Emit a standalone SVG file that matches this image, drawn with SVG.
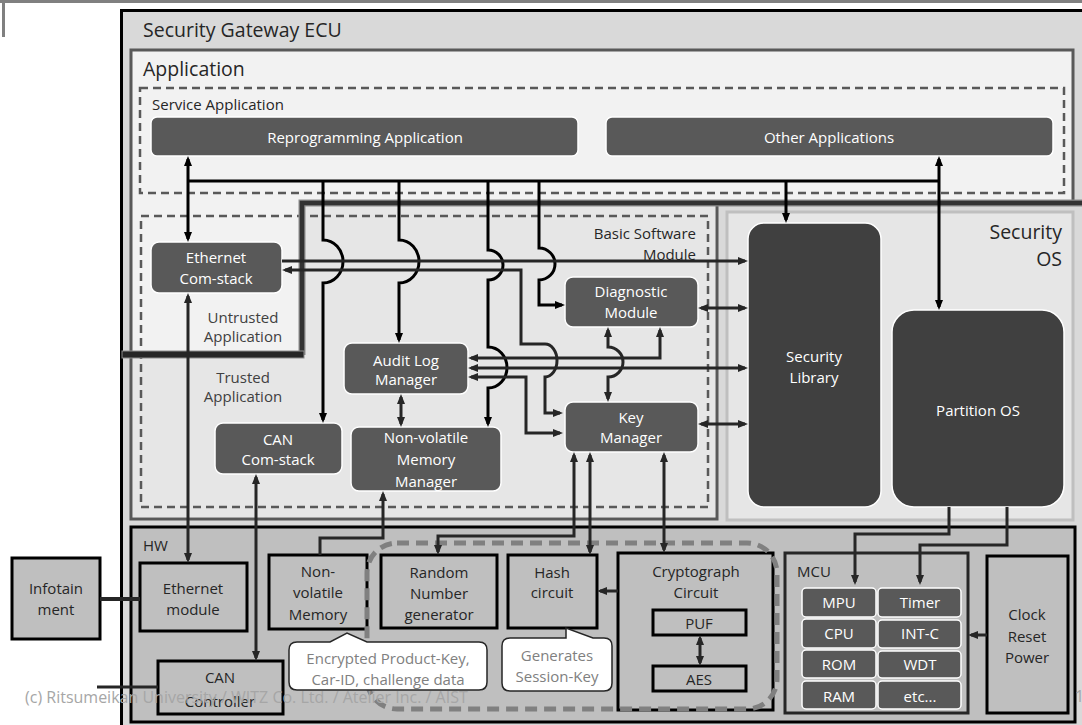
<svg xmlns="http://www.w3.org/2000/svg" width="1082" height="725" viewBox="0 0 1082 725">
<style>
text{font-family:"Open Sans","Liberation Sans",sans-serif;font-size:15px}
.w{fill:#fff;text-anchor:middle}
.d{fill:#262626;text-anchor:middle}
.sw{fill:#595959;stroke:#fff;stroke-width:1.5}
.sd{fill:#404040;stroke:#fff;stroke-width:1.5}
.hw{fill:#bfbfbf;stroke:#000;stroke-width:3}
.bus{fill:none;stroke:#000;stroke-width:3}
.cn{fill:none;stroke:#262626;stroke-width:3}
.call{fill:#fff;stroke:#262626;stroke-width:1.5}
.g{fill:#808080;text-anchor:middle}
</style>
<defs>
<marker id="ab" viewBox="0 0 10 10" refX="7" refY="5" markerWidth="10" markerHeight="10" markerUnits="userSpaceOnUse" orient="auto-start-reverse"><path d="M0,1 L10,5 L0,9 z" fill="#000"/></marker>
<marker id="ad" viewBox="0 0 10 10" refX="7" refY="5" markerWidth="10" markerHeight="10" markerUnits="userSpaceOnUse" orient="auto-start-reverse"><path d="M0,1 L10,5 L0,9 z" fill="#262626"/></marker>
</defs>
<rect x="0" y="0" width="1082" height="725" fill="#fff"/>
<rect x="0" y="0" width="1082" height="3" fill="#808080"/>
<rect x="2" y="0" width="3" height="37" fill="#808080"/>

<g id="ecu">
<rect x="121.5" y="10.5" width="980" height="720" fill="#d9d9d9" stroke="#000" stroke-width="3"/>
<text x="143" y="37" style="font-size:19.5px" fill="#262626">Security Gateway ECU</text>
</g>

<g id="application">
<polygon points="131,50 1073,50 1073,204 717,204 717,519 131,519" fill="#f2f2f2" stroke="#595959" stroke-width="3"/>
<polygon points="133,358 302,358 302,205 715,205 715,517 133,517" fill="#e6e6e6"/>
<text x="143" y="76" style="font-size:19.5px" fill="#262626">Application</text>
</g>

<g id="security-os">
<rect x="727" y="212" width="346" height="308" fill="#e6e6e6" stroke="#bfbfbf" stroke-width="3"/>
<text x="1062" y="239" style="font-size:19.5px;text-anchor:end" fill="#262626">Security</text>
<text x="1062" y="266" style="font-size:19.5px;text-anchor:end" fill="#262626">OS</text>
</g>

<g id="service-application">
<rect x="140" y="88" width="924" height="105" fill="none" stroke="#595959" stroke-width="2.5" stroke-dasharray="8 5"/>
<text x="152" y="110" fill="#262626">Service Application</text>
</g>

<g id="basic-software-module">
<rect x="141" y="216" width="567" height="291" fill="none" stroke="#595959" stroke-width="2.5" stroke-dasharray="8 5"/>
<text x="696" y="239" style="text-anchor:end" fill="#262626">Basic Software</text>
<text x="696" y="260" style="text-anchor:end" fill="#262626">Module</text>
</g>

<g id="trust-boundary">
<path d="M302,355 V203 H1082" fill="none" stroke="#8c8c8c" stroke-width="7"/>
<path d="M302,355 V203 H1082" fill="none" stroke="#333" stroke-width="4.5"/>
<rect x="122" y="351" width="182" height="7" fill="#262626" stroke="#8c8c8c" stroke-width="1"/>
<text class="d" x="243" y="323" style="fill:#404040">Untrusted</text>
<text class="d" x="243" y="342" style="fill:#404040">Application</text>
<text class="d" x="243" y="383" style="fill:#404040">Trusted</text>
<text class="d" x="243" y="402" style="fill:#404040">Application</text>
</g>

<g id="reprogramming-application"><rect class="sw" x="151" y="117" width="427" height="39" rx="6"/><text class="w" x="365" y="143">Reprogramming Application</text></g>
<g id="other-applications"><rect class="sw" x="606" y="117" width="447" height="39" rx="6"/><text class="w" x="829" y="143">Other Applications</text></g>
<g id="ethernet-com-stack"><rect class="sw" x="151" y="242" width="131" height="51" rx="8"/><text class="w" x="216" y="263">Ethernet</text><text class="w" x="216" y="284">Com-stack</text></g>
<g id="audit-log-manager"><rect class="sw" x="344" y="343" width="124" height="51" rx="8"/><text class="w" x="406" y="366">Audit Log</text><text class="w" x="406" y="385">Manager</text></g>
<g id="diagnostic-module"><rect class="sw" x="565" y="277" width="133" height="50" rx="8"/><text class="w" x="631" y="297">Diagnostic</text><text class="w" x="631" y="318">Module</text></g>
<g id="key-manager"><rect class="sw" x="565" y="402" width="133" height="50" rx="8"/><text class="w" x="631" y="423">Key</text><text class="w" x="631" y="443">Manager</text></g>
<g id="can-com-stack"><rect class="sw" x="215" y="423" width="127" height="51" rx="8"/><text class="w" x="278" y="445">CAN</text><text class="w" x="278" y="465">Com-stack</text></g>
<g id="nvm-manager"><rect class="sw" x="351" y="427" width="150" height="64" rx="8"/><text class="w" x="426" y="443">Non-volatile</text><text class="w" x="426" y="465">Memory</text><text class="w" x="426" y="487">Manager</text></g>
<g id="security-library"><rect class="sd" x="748" y="223" width="133" height="284" rx="16"/><text class="w" x="814" y="362">Security</text><text class="w" x="814" y="383">Library</text></g>
<g id="partition-os"><rect class="sd" x="892" y="310" width="172" height="197" rx="22"/><text class="w" x="978" y="416">Partition OS</text></g>

<g id="hw">
<rect x="131" y="527" width="944" height="195" fill="#bfbfbf" stroke="#000" stroke-width="3"/>
<text x="143" y="551" fill="#262626">HW</text>
</g>
<g id="infotainment"><rect class="hw" x="12" y="558" width="88" height="81"/><text class="d" x="56" y="594">Infotain</text><text class="d" x="56" y="615">ment</text></g>
<g id="ethernet-module"><rect class="hw" x="140" y="563" width="107" height="68"/><text class="d" x="193" y="594">Ethernet</text><text class="d" x="193" y="615">module</text></g>
<g id="can-controller"><rect class="hw" x="158" y="661" width="125" height="53"/><text class="d" x="220" y="683">CAN</text><text class="d" x="220" y="707">Controller</text></g>
<g id="non-volatile-memory"><rect class="hw" x="269" y="555" width="98" height="74"/><text class="d" x="318" y="577">Non-</text><text class="d" x="318" y="598">volatile</text><text class="d" x="318" y="620">Memory</text></g>
<g id="random-number-generator"><rect class="hw" x="381" y="555" width="116" height="73"/><text class="d" x="439" y="578">Random</text><text class="d" x="439" y="599">Number</text><text class="d" x="439" y="620">generator</text></g>
<g id="hash-circuit"><rect class="hw" x="508" y="555" width="89" height="73"/><text class="d" x="552" y="578">Hash</text><text class="d" x="552" y="598">circuit</text></g>
<g id="cryptograph-circuit"><rect class="hw" x="618" y="553" width="155" height="157"/><text class="d" x="696" y="577">Cryptograph</text><text class="d" x="696" y="598">Circuit</text></g>
<g id="puf"><rect class="hw" x="653" y="610" width="93" height="25"/><text class="d" x="699" y="629">PUF</text></g>
<g id="aes"><rect class="hw" x="653" y="666" width="93" height="25"/><text class="d" x="699" y="685">AES</text></g>
<g id="mcu">
<rect x="785" y="553" width="183" height="160" fill="#bfbfbf" stroke="#262626" stroke-width="3"/>
<text x="797" y="577" fill="#262626">MCU</text>
<rect class="sw" x="802" y="588" width="74" height="29" rx="4"/><text class="w" x="839" y="608">MPU</text>
<rect class="sw" x="802" y="619" width="74" height="29" rx="4"/><text class="w" x="839" y="639">CPU</text>
<rect class="sw" x="802" y="650" width="74" height="28" rx="4"/><text class="w" x="839" y="670">ROM</text>
<rect class="sw" x="802" y="681" width="74" height="28" rx="4"/><text class="w" x="839" y="702">RAM</text>
<rect class="sw" x="878" y="588" width="83" height="29" rx="4"/><text class="w" x="920" y="608">Timer</text>
<rect class="sw" x="878" y="620" width="83" height="28" rx="4"/><text class="w" x="920" y="639">INT-C</text>
<rect class="sw" x="878" y="651" width="83" height="27" rx="4"/><text class="w" x="920" y="670">WDT</text>
<rect class="sw" x="878" y="681" width="83" height="28" rx="4"/><text class="w" x="920" y="702">etc...</text>
</g>
<g id="clock-reset-power"><rect class="hw" x="987" y="556" width="81" height="157"/><text class="d" x="1027" y="620">Clock</text><text class="d" x="1027" y="642">Reset</text><text class="d" x="1027" y="663">Power</text></g>

<g id="secure-hw-region"><rect x="367" y="543" width="410" height="166" rx="30" fill="none" stroke="#808080" stroke-width="5" stroke-dasharray="12 7"/></g>

<g id="callout-encrypted">
<path class="call" d="M297,642 L330,642 L347,633 L367,642 L479,642 Q487,642 487,650 L487,682 Q487,690 479,690 L297,690 Q289,690 289,682 L289,650 Q289,642 297,642 Z"/>
<text class="g" x="388" y="664">Encrypted Product-Key,</text>
<text class="g" x="388" y="685">Car-ID, challenge data</text>
</g>
<g id="callout-session">
<path class="call" d="M510,638 L566,638 L566,628 L593,638 L604,638 Q612,638 612,646 L612,683 Q612,691 604,691 L510,691 Q502,691 502,683 L502,646 Q502,638 510,638 Z"/>
<text class="g" x="557" y="661">Generates</text>
<text class="g" x="557" y="682">Session-Key</text>
</g>

<g id="connectors">
<path class="bus" d="M188,181 H939"/>
<path class="bus" d="M188,159 V239" marker-start="url(#ab)" marker-end="url(#ab)"/>
<path class="bus" d="M939,159 V307" marker-start="url(#ab)" marker-end="url(#ab)"/>
<path class="bus" d="M786,181 V220" marker-end="url(#ab)"/>
<path class="bus" d="M323,181 V240 A20,21.5 0 0 1 323,283 V420" marker-end="url(#ab)"/>
<path class="bus" d="M399,181 V240 A20,21.5 0 0 1 399,283 V340" marker-end="url(#ab)"/>
<path class="bus" d="M488,181 V250 A15,15 0 0 1 488,280 V347 A19,20.5 0 0 1 488,388 V424" marker-end="url(#ab)"/>
<path class="bus" d="M539,181 V248 A16,16 0 0 1 539,280 V305 H562" marker-end="url(#ab)"/>

<path class="cn" d="M282,261 H745" marker-end="url(#ad)"/>
<path class="cn" d="M285,270 H521 V344 H545 A12,16.5 0 0 1 545,377 V413 H560" marker-start="url(#ad)" marker-end="url(#ad)"/>
<path class="cn" d="M471,358 H660 V330" marker-start="url(#ad)" marker-end="url(#ad)"/>
<path class="cn" d="M471,368 H745" marker-start="url(#ad)" marker-end="url(#ad)"/>
<path class="cn" d="M471,377 H526 V433 H560" marker-start="url(#ad)" marker-end="url(#ad)"/>
<path class="cn" d="M608,330 V347 A15,15 0 0 1 608,377 V399" marker-start="url(#ad)" marker-end="url(#ad)"/>
<path class="cn" d="M701,308 H745" marker-start="url(#ad)" marker-end="url(#ad)"/>
<path class="cn" d="M701,424 H745" marker-start="url(#ad)" marker-end="url(#ad)"/>
<path class="cn" d="M401,397 V424" marker-start="url(#ad)" marker-end="url(#ad)"/>
<path class="cn" d="M188,296 V560" marker-start="url(#ad)" marker-end="url(#ad)"/>
<path class="cn" d="M256,477 V658" marker-start="url(#ad)" marker-end="url(#ad)"/>
<path class="cn" d="M383,494 V538 H320 V555" marker-start="url(#ad)"/>
<path class="cn" d="M574,455 V536 H438 V552" marker-start="url(#ad)" marker-end="url(#ad)"/>
<path class="cn" d="M590,455 V552" marker-start="url(#ad)" marker-end="url(#ad)"/>
<path class="cn" d="M664,455 V550" marker-start="url(#ad)" marker-end="url(#ad)"/>
<path class="cn" d="M618,591 H600" marker-end="url(#ad)"/>
<path class="cn" d="M700,638 V663" marker-start="url(#ad)" marker-end="url(#ad)"/>
<path class="cn" d="M949,507 V534 H855 V582" marker-end="url(#ad)"/>
<path class="cn" d="M1007,507 V545 H920 V582" marker-end="url(#ad)"/>
<path class="cn" d="M987,635 H971" marker-end="url(#ad)"/>
<path class="cn" d="M100,599 H140" style="stroke-width:4"/>
<path class="cn" d="M97,687 H158"/>
</g>

<g id="credits">
<text x="25" y="703" style="font-size:16px" fill="#a6a6a6">(c) Ritsumeikan University / WITZ Co. Ltd. / Atelier Inc. / AIST</text>
<text x="1075" y="702" style="font-size:16px" fill="#a6a6a6">1</text>
</g>
</svg>
